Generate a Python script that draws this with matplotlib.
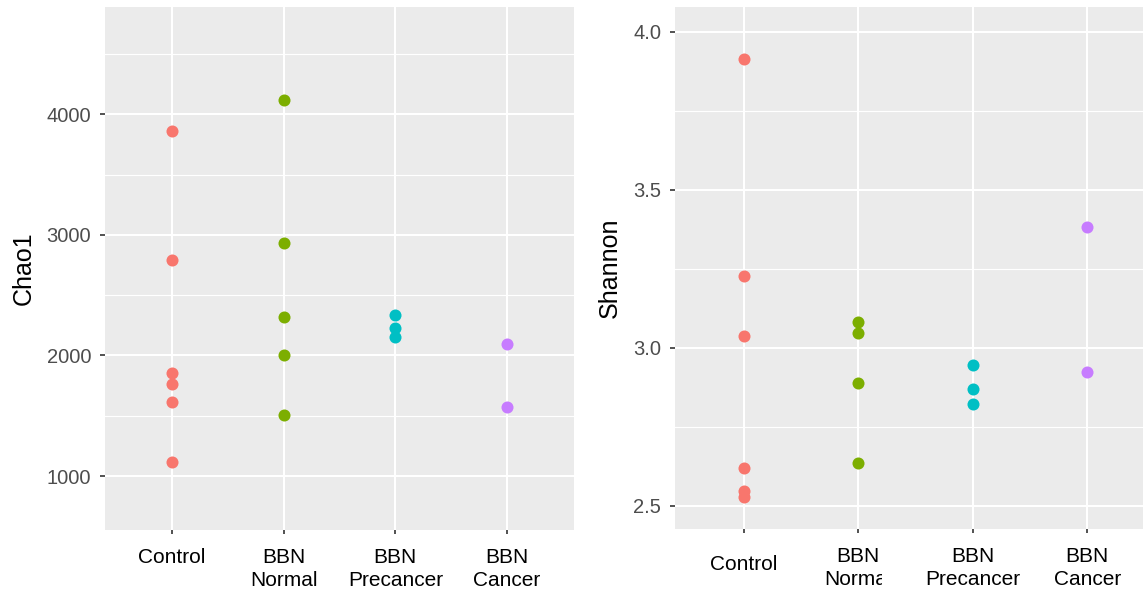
import matplotlib
matplotlib.use("Agg")
import matplotlib.pyplot as plt
from matplotlib.transforms import Bbox

# groups on the x axis
groups = ["Control", "BBN\nNormal", "BBN\nPrecancer", "BBN\nCancer"]
colors = ["#F8766D", "#7CAE00", "#00BFC4", "#C77CFF"]

# Chao1 values per group
chao_control = [3860, 2796, 1853, 1767, 1617, 1120]
chao_normal = [4120, 2930, 2323, 2005, 1504]
chao_precancer = [2339, 2231, 2155]
chao_cancer = [2097, 1570]

# Shannon values per group
shan_control = [3.913, 3.226, 3.037, 2.620, 2.545, 2.527]
shan_normal = [3.080, 3.048, 2.888, 2.634]
shan_precancer = [2.946, 2.870, 2.822]
shan_cancer = [3.383, 2.924]

chao = [chao_control, chao_normal, chao_precancer, chao_cancer]
shan = [shan_control, shan_normal, shan_precancer, shan_cancer]

W, H = 1143, 602
fig = plt.figure(figsize=(W / 100, H / 100), dpi=100)
plt.rcParams['font.family'] = ['Liberation Sans', 'DejaVu Sans']


def px_axes(l, r, t, b):
    return fig.add_axes([l / W, 1 - b / H, (r - l) / W, (b - t) / H])


def style(ax, ylabel, yticks, yminor, ylim):
    ax.set_facecolor("#EBEBEB")
    for s in ax.spines.values():
        s.set_visible(False)
    ax.set_xlim(0.4, 4.6)
    ax.set_ylim(*ylim)
    ax.set_xticks(range(1, 5))
    ax.set_xticklabels(groups, fontsize=15, color="black", linespacing=1.25)
    ax.set_yticks(yticks)
    ax.set_yticks(yminor, minor=True)
    ax.tick_params(axis="y", which="major", labelsize=14.5, labelcolor="#4D4D4D",
                   color="#333333", length=3.5, width=1.2, pad=6.5)
    ax.tick_params(axis="x", which="major", color="#333333", length=3, width=1.2, pad=10)
    ax.tick_params(which="minor", length=0)
    ax.grid(True, which="major", color="white", linewidth=1.5)
    ax.grid(True, which="minor", axis="y", color="white", linewidth=0.8)
    ax.set_axisbelow(True)
    ax.set_ylabel(ylabel, fontsize=18, color="black", labelpad=8)


ax1 = px_axes(105, 574, 7, 530)
style(ax1, "Chao1", [1000, 2000, 3000, 4000], [1500, 2500, 3500, 4500], (552, 4891))
for i, vals in enumerate(chao):
    ax1.scatter([i + 1] * len(vals), vals, s=75, color=colors[i], zorder=3, linewidths=0)

ax2 = px_axes(675, 1156, 7, 529)
style(ax2, "Shannon", [2.5, 3.0, 3.5, 4.0], [2.75, 3.25, 3.75], (2.426, 4.079))
ax2.set_yticklabels(["2.5", "3.0", "3.5", "4.0"])
for i, vals in enumerate(shan):
    ax2.scatter([i + 1] * len(vals), vals, s=75, color=colors[i], zorder=3, linewidths=0)

# in the right panel "Control" sits a little lower than the BBN labels
ax2.get_xticklabels()[0].set_y(-8 / 522)

# the reference cuts the "Normal" label of the right panel
lab = ax2.get_xticklabels()[1]
lab.set_clip_box(Bbox.from_extents(0, 0, 881.7, H))
lab.set_clip_on(True)

fig.savefig("out.png", dpi=100)
